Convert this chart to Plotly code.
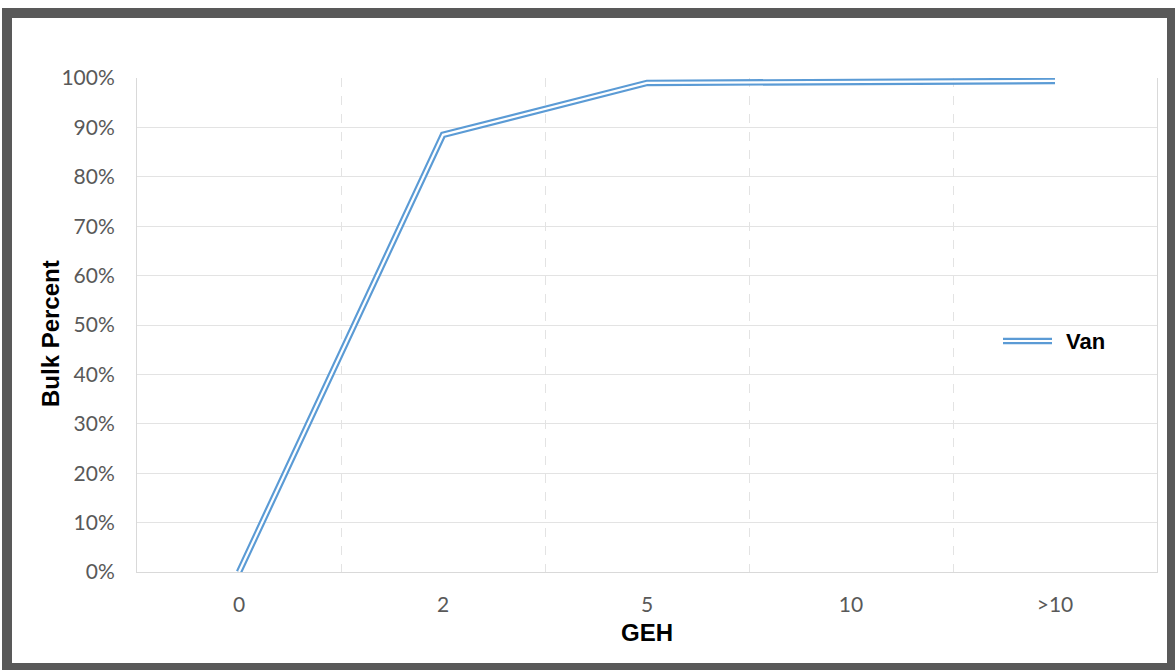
import plotly.graph_objects as go

categories = ["0", "2", "5", "10", ">10"]
van = [0.0, 0.885, 0.99, 0.992, 0.994]
y_ticks = [0, 0.1, 0.2, 0.3, 0.4, 0.5, 0.6, 0.7, 0.8, 0.9, 1.0]
y_labels = [f"{int(round(v*100))}%" for v in y_ticks]

W, H = 1175, 670
L, R, T, B = 137, 1157, 78, 572

def px(x):
    return (x - L) / (R - L)

def py(y):
    return (B - y) / (B - T)

xpos = list(range(len(categories)))
blue = "#5b9bd5"

fig = go.Figure()
fig.add_trace(go.Scatter(x=xpos, y=van, mode="lines", name="Van",
                         line=dict(color=blue, width=6.5), showlegend=False,
                         hoverinfo="skip"))
fig.add_trace(go.Scatter(x=xpos, y=van, mode="lines", name="Van",
                         line=dict(color="white", width=2.2), showlegend=False))

shapes = [
    dict(type="rect", xref="paper", yref="paper", x0=px(2), x1=px(1175), y0=py(670), y1=py(8),
         fillcolor="#595959", line=dict(width=0), layer="below"),
    dict(type="rect", xref="paper", yref="paper", x0=px(12), x1=px(1167), y0=py(663), y1=py(18),
         fillcolor="white", line=dict(width=0), layer="below"),
    # manual legend symbol (double line)
    dict(type="line", xref="paper", yref="paper", x0=px(1003), x1=px(1052), y0=py(341), y1=py(341),
         line=dict(color=blue, width=6.5), layer="above"),
    dict(type="line", xref="paper", yref="paper", x0=px(1003), x1=px(1052), y0=py(341), y1=py(341),
         line=dict(color="white", width=2.2), layer="above"),
]

annotations = [
    dict(text="Van", xref="paper", yref="paper", x=px(1064), y=py(342), xanchor="left", yanchor="middle",
         showarrow=False, font=dict(family="Liberation Sans", size=22, color="black", weight="bold")),
    dict(text="Bulk Percent", xref="paper", yref="paper", x=px(50), y=py(334), xanchor="center",
         yanchor="middle", textangle=-90, showarrow=False,
         font=dict(family="Liberation Sans", size=24, color="black", weight="bold")),
]

fig.update_layout(
    width=W, height=H,
    margin=dict(l=L, r=W - R, t=T, b=H - B, pad=0),
    paper_bgcolor="white",
    plot_bgcolor="rgba(0,0,0,0)",
    shapes=shapes,
    annotations=annotations,
    showlegend=False,
    xaxis=dict(
        range=[-0.5, 4.5],
        tickvals=xpos, ticktext=categories,
        showgrid=False, zeroline=False,
        showline=True, linecolor="#d9d9d9", linewidth=1,
        ticks="", ticklabelstandoff=14,
        tickfont=dict(family="Lato", size=21, color="#595959"),
        minor=dict(tickvals=[0.5, 1.5, 2.5, 3.5], showgrid=True,
                   gridcolor="#e3e3e3", gridwidth=1, griddash="dash", ticks=""),
        title=dict(text="GEH", standoff=8,
                   font=dict(family="Liberation Sans", size=24, color="black", weight="bold")),
    ),
    yaxis=dict(
        range=[0, 1],
        tickvals=y_ticks, ticktext=y_labels,
        showgrid=True, gridcolor="#e3e3e3", gridwidth=1,
        zeroline=False,
        showline=True, linecolor="#d9d9d9", linewidth=1, mirror=True,
        ticks="", ticklabelstandoff=17,
        tickfont=dict(family="Lato", size=21, color="#595959"),
    ),
)

fig.write_html("out.html")
